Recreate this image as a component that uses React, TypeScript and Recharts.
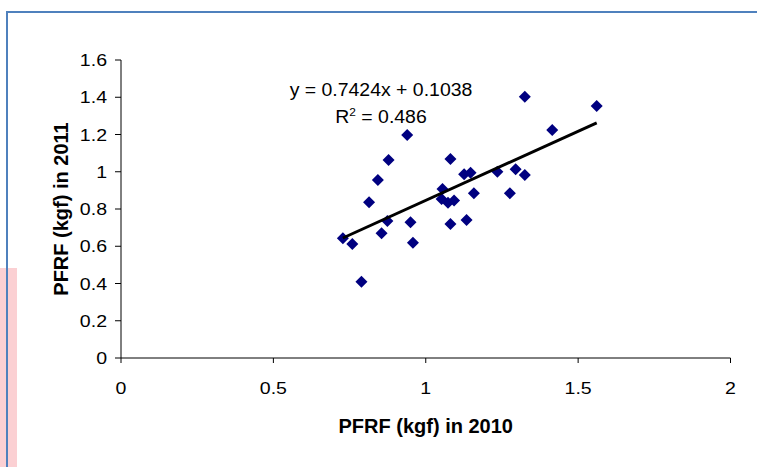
import React from "react";
import { ScatterChart, Scatter, XAxis, YAxis, Label } from "recharts";

// PFRF (kgf) 2010 vs 2011
const pfrf2010 = [
  0.728, 0.759, 0.789, 0.814, 0.843, 0.855, 0.874, 0.878, 0.939, 0.95,
  0.958, 1.055, 1.052, 1.073, 1.093, 1.081, 1.081, 1.126, 1.147, 1.134,
  1.158, 1.235, 1.276, 1.295, 1.325, 1.325, 1.415, 1.561,
];
const pfrf2011 = [
  0.643, 0.612, 0.41, 0.836, 0.956, 0.67, 0.736, 1.063, 1.197, 0.729,
  0.619, 0.907, 0.854, 0.834, 0.845, 1.068, 0.719, 0.986, 0.995, 0.741,
  0.884, 1.0, 0.884, 1.013, 0.983, 1.403, 1.224, 1.353,
];
const slope = 0.7424;
const intercept = 0.1038;
const rSquared = "0.486";
const xTicks = [0, 0.5, 1, 1.5, 2];
const yTicks = [0, 0.2, 0.4, 0.6, 0.8, 1, 1.2, 1.4, 1.6];

const points = pfrf2010.map((x, i) => ({ x, y: pfrf2011[i] }));
const xMin = Math.min(...pfrf2010);
const xMax = Math.max(...pfrf2010);
const trend = [
  { x: xMin, y: slope * xMin + intercept },
  { x: xMax, y: slope * xMax + intercept },
];

const FONT = "'Liberation Sans', Arial, sans-serif";

function Diamond(props: any) {
  const { cx, cy } = props;
  const r = 6;
  return (
    <polygon
      points={`${cx},${cy - r} ${cx + r},${cy} ${cx},${cy + r} ${cx - r},${cy}`}
      fill="#000080"
    />
  );
}

function YTick(props: any) {
  const { x, y, payload } = props;
  return (
    <g transform={`translate(${x},${y})`}>
      <text transform="scale(1.15,1)" textAnchor="end" dy="0.355em" fontSize={17} fontFamily={FONT} fill="#000">
        {String(payload.value)}
      </text>
    </g>
  );
}

function XTick(props: any) {
  const { x, y, payload } = props;
  return (
    <g transform={`translate(${x},${y})`}>
      <text transform="scale(1.15,1)" textAnchor="middle" dy="0.71em" fontSize={17} fontFamily={FONT} fill="#000">
        {String(payload.value)}
      </text>
    </g>
  );
}

export default function App() {
  return (
    <div style={{ position: "absolute", left: 0, top: 0, width: 757, height: 467, overflow: "hidden", background: "#fff", fontFamily: FONT }}>
      <div style={{ position: "absolute", left: 0, top: 268, width: 17, height: 199, background: "#fbd0d3" }} />
      <div style={{ position: "absolute", left: 6, top: 11, width: 760, height: 470, borderLeft: "2px solid #4f81bd", borderTop: "2px solid #4f81bd" }} />
      <div style={{ position: "absolute", left: 0, top: 0 }}>
        <ScatterChart width={757} height={467} margin={{ top: 60, right: 26.5, bottom: 0, left: 0 }}>
          <XAxis
            type="number"
            dataKey="x"
            domain={[0, 2]}
            ticks={xTicks}
            height={109}
            stroke="#000"
            tickSize={5}
            tickMargin={18.5}
            tick={<XTick />}
          >
            <Label
              value="PFRF (kgf) in 2010"
              position="insideBottom"
              offset={34}
              style={{ fontSize: 20, fontWeight: "bold", fill: "#000", fontFamily: FONT }}
            />
          </XAxis>
          <YAxis
            type="number"
            dataKey="y"
            domain={[0, 1.6]}
            ticks={yTicks}
            width={121}
            stroke="#000"
            tickSize={6}
            tickMargin={8}
            tick={<YTick />}
          >
            <Label
              value="PFRF (kgf) in 2011"
              position="center"
              angle={-90}
              style={{ fontSize: 20, fontWeight: "bold", fill: "#000", fontFamily: FONT, textAnchor: "middle" }}
            />
          </YAxis>
          <Scatter data={points} shape={<Diamond />} isAnimationActive={false} />
          <Scatter
            data={trend}
            line={{ stroke: "#000", strokeWidth: 3 }}
            shape={() => <g />}
            isAnimationActive={false}
          />
        </ScatterChart>
      </div>
      <div style={{ position: "absolute", left: 231, top: 81, width: 300, textAlign: "center", fontSize: 18, lineHeight: "18px", color: "#000", transform: "scaleX(1.08)", whiteSpace: "nowrap" }}>
        {`y = ${slope}x + ${intercept}`}
      </div>
      <div style={{ position: "absolute", left: 231, top: 108, width: 300, textAlign: "center", fontSize: 18, lineHeight: "18px", color: "#000", transform: "scaleX(1.08)", whiteSpace: "nowrap" }}>
        R<span style={{ fontSize: 11, position: "relative", top: -7 }}>2</span> = {rSquared}
      </div>
    </div>
  );
}
